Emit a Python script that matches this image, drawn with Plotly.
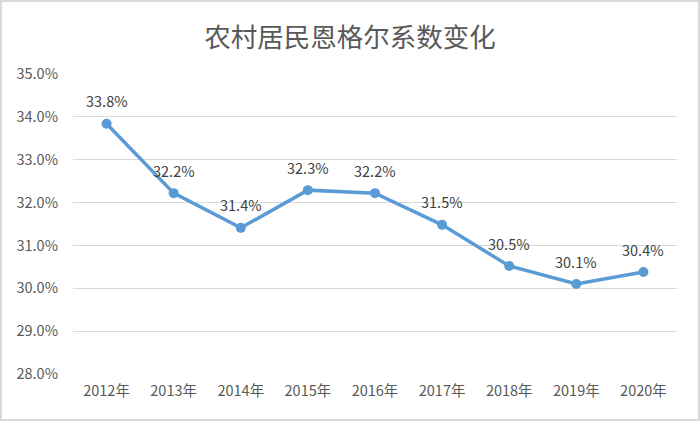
import plotly.graph_objects as go

years = ["2012年", "2013年", "2014年", "2015年", "2016年", "2017年", "2018年", "2019年", "2020年"]
values = [33.84, 32.22, 31.41, 32.29, 32.22, 31.48, 30.52, 30.10, 30.38]
labels = ["33.8%", "32.2%", "31.4%", "32.3%", "32.2%", "31.5%", "30.5%", "30.1%", "30.4%"]
yticks = [28, 29, 30, 31, 32, 33, 34, 35]
ytick_text = ["28.0%", "29.0%", "30.0%", "31.0%", "32.0%", "33.0%", "34.0%", "35.0%"]

font_family = "Noto Sans CJK SC, Noto Sans, sans-serif"

fig = go.Figure()
fig.add_trace(go.Scatter(
    x=years, y=values, mode="lines+markers",
    line=dict(color="#5B9BD5", width=3.5),
    marker=dict(color="#5B9BD5", size=10),
    cliponaxis=False, hoverinfo="skip",
))

annotations = [
    dict(x=yr, y=v, text=t, showarrow=False, xref="x", yref="y", yshift=23,
         font=dict(size=14.5, color="#404040", family=font_family))
    for yr, v, t in zip(years, values, labels)
]

ml, mr, mt, mb = 73, 23, 74, 47
pw, ph = 700 - ml - mr, 421 - mt - mb

fig.update_layout(
    width=700, height=421,
    margin=dict(l=ml, r=mr, t=mt, b=mb),
    paper_bgcolor="white", plot_bgcolor="white",
    showlegend=False,
    title=dict(text="农村居民恩格尔系数变化", x=0.5, xanchor="center", y=1 - 38 / 421, yanchor="middle",
               font=dict(size=26.5, color="#595959", family=font_family)),
    font=dict(family=font_family),
    annotations=annotations,
    xaxis=dict(range=[-0.5, 8.5], showgrid=False, zeroline=False, showline=False,
               ticks="", tickfont=dict(size=14.5, color="#595959"), ticklabelstandoff=6),
    yaxis=dict(range=[28, 35], tickvals=yticks, ticktext=ytick_text, showgrid=True,
               gridcolor="#D9D9D9", gridwidth=1, zeroline=False, showline=False, ticks="",
               tickfont=dict(size=14.5, color="#595959"), ticklabelstandoff=14),
    shapes=[dict(type="rect", xref="paper", yref="paper",
                 x0=(1 - ml) / pw, x1=(699 - ml) / pw,
                 y0=(mt + ph - 420) / ph, y1=(mt + ph - 1) / ph,
                 line=dict(color="#D9D9D9", width=2), fillcolor="rgba(0,0,0,0)", layer="below")],
)

fig.write_html("out.html", config={"displayModeBar": False},
               post_script="document.body.style.margin='0';")
